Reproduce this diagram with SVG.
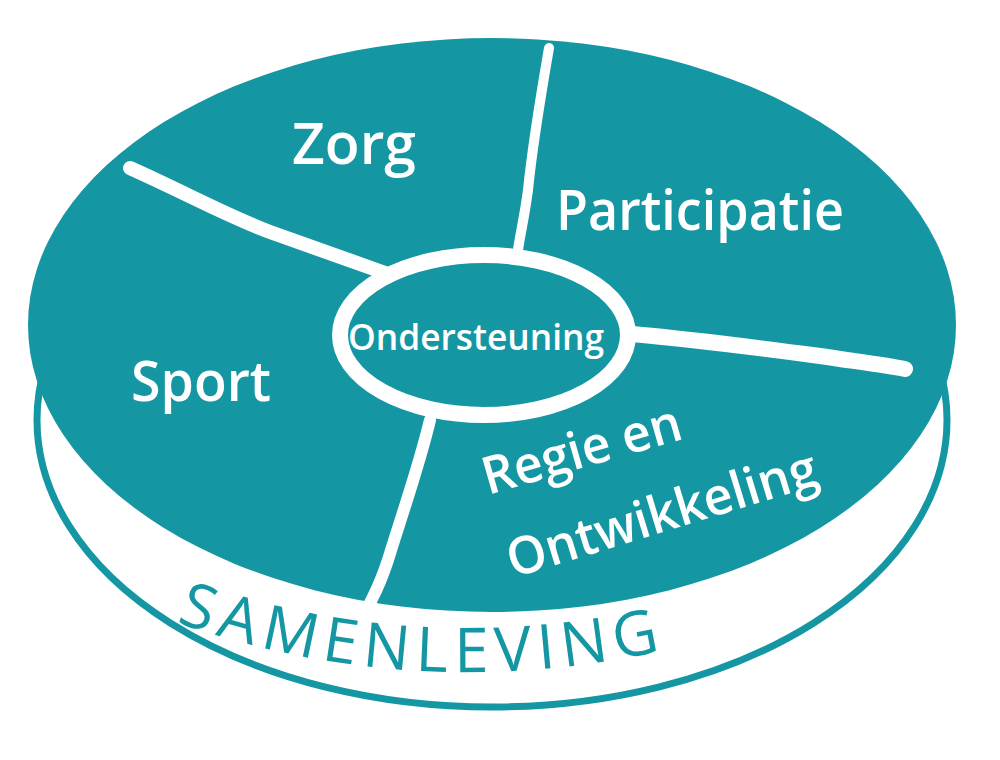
<svg xmlns="http://www.w3.org/2000/svg" width="1000" height="760" viewBox="0 0 1000 760">
<defs>
<style>
.face{fill:#1597a3}
.rim{fill:#ffffff;stroke:#1597a3;stroke-width:7}
.spoke{fill:none;stroke:#ffffff;stroke-linecap:round;stroke-linejoin:round}
.lbl{font-family:"Open Sans","Noto Sans",sans-serif;font-weight:600;fill:#ffffff}
.band{font-family:"Open Sans","Noto Sans",sans-serif;font-weight:500;fill:#1597a3}
</style>
<path id="bandPath" d="M 176 622 Q 420 707 674 648"/>
</defs>
<rect width="1000" height="760" fill="#ffffff"/>
<g id="disc">
<ellipse class="rim" cx="492" cy="420" rx="455" ry="287"/>
<ellipse class="face" cx="492" cy="325" rx="464" ry="287"/>
</g>
<g id="connectors">
<path class="spoke" stroke-width="14" d="M 130 168 C 190 195 225 215 270 232 C 320 250 355 262 388 274"/>
<path class="spoke" stroke-width="10" d="M 549 48 C 540 100 532 150 528 190 C 524 220 520 235 518 250"/>
<path class="spoke" stroke-width="16" d="M 632 334 C 700 340 760 348 820 356 C 860 362 885 365 905 369"/>
<path class="spoke" stroke-width="12" d="M 430 420 C 418 470 400 520 388 560 C 378 590 372 598 370 603"/>
</g>
<g id="center">
<ellipse cx="484" cy="335" rx="144" ry="80" fill="#1597a3" stroke="#ffffff" stroke-width="16"/>
<text class="lbl" x="476" y="350" font-size="36" text-anchor="middle" textLength="256" lengthAdjust="spacingAndGlyphs">Ondersteuning</text>
</g>
<g id="zorg">
<text class="lbl" x="292" y="164" font-size="58" textLength="124" lengthAdjust="spacingAndGlyphs">Zorg</text>
</g>
<g id="participatie">
<text class="lbl" x="556" y="230" font-size="56" textLength="288" lengthAdjust="spacingAndGlyphs">Participatie</text>
</g>
<g id="sport">
<text class="lbl" x="131" y="401" font-size="56" textLength="140" lengthAdjust="spacingAndGlyphs">Sport</text>
</g>
<g id="regie">
<text class="lbl" font-size="52" transform="translate(488 495) rotate(-16)" textLength="205" lengthAdjust="spacingAndGlyphs">Regie en</text>
<text class="lbl" font-size="52" transform="translate(513 578) rotate(-17)" textLength="322" lengthAdjust="spacingAndGlyphs">Ontwikkeling</text>
</g>
<g id="samenleving">
<text class="band" font-size="62"><textPath href="#bandPath" textLength="492" lengthAdjust="spacing">SAMENLEVING</textPath></text>
</g>
</svg>
